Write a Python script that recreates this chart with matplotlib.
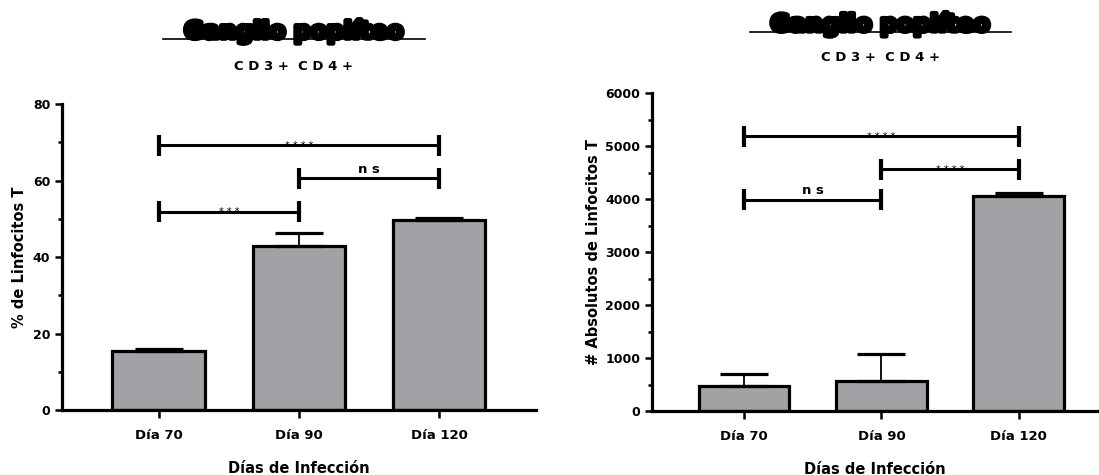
import matplotlib.pyplot as plt
import matplotlib.patheffects as pe
from matplotlib.ticker import MultipleLocator

dias = ["Día 70", "Día 90", "Día 120"]

pct_mean = [15.3, 42.8, 49.6]
pct_err = [0.6, 3.4, 0.7]
pct_brackets = [(0, 2, 69.2, "****"), (1, 2, 60.6, "ns"), (0, 1, 51.9, "***")]

abs_mean = [475, 565, 4065]
abs_err = [220, 510, 50]
abs_brackets = [(0, 2, 5180, "****"), (1, 2, 4560, "****"), (0, 1, 3990, "ns")]

gris = "#a2a1a6"

fig = plt.figure(figsize=(10.99, 4.75), dpi=100)
ax1 = fig.add_axes([0.0564, 0.1368, 0.4313, 0.6442])
ax2 = fig.add_axes([0.5933, 0.1347, 0.4049, 0.6695])


def panel(ax, means, errs, brackets, ylim, major, minor, ylabel, tick_h):
    x = range(len(dias))
    ax.bar(x, means, width=0.66, color=gris, edgecolor="black", linewidth=2.3, zorder=2)
    ax.errorbar(x, means, yerr=[[0] * len(errs), errs], fmt="none", ecolor="black",
                elinewidth=1.3, capsize=17, capthick=2.3, zorder=3)
    for i, j, y, txt in brackets:
        ax.plot([i, j], [y, y], color="black", lw=2.2, zorder=4, solid_capstyle="butt")
        for k in (i, j):
            ax.plot([k, k], [y - tick_h, y + tick_h], color="black", lw=3, zorder=4,
                    solid_capstyle="butt")
        if txt == "ns":
            ax.text((i + j) / 2, y + tick_h * 0.25, "n s", ha="center", va="bottom",
                    fontsize=9.5, fontweight="bold")
        else:
            ax.text((i + j) / 2, y - tick_h * 0.55, " ".join(txt), ha="center", va="bottom",
                    fontsize=7)
    ax.set_ylim(*ylim)
    ax.yaxis.set_major_locator(MultipleLocator(major))
    ax.yaxis.set_minor_locator(MultipleLocator(minor))
    ax.set_xticks(list(x))
    ax.set_xticklabels(dias, fontsize=9.5, fontweight="bold")
    ax.tick_params(axis="y", labelsize=9, width=1.8, length=5)
    ax.tick_params(axis="y", which="minor", width=1.8, length=3)
    ax.tick_params(axis="x", width=1.8, length=6, pad=8)
    for lab in ax.get_yticklabels():
        lab.set_fontweight("bold")
    for s in ("top", "right"):
        ax.spines[s].set_visible(False)
    for s in ("left", "bottom"):
        ax.spines[s].set_linewidth(2.3)
    ax.set_ylabel(ylabel, fontsize=10.5, fontweight="bold")
    ax.set_xlabel("Días de Infección", fontsize=10.5, fontweight="bold", labelpad=13)


panel(ax1, pct_mean, pct_err, pct_brackets, (0, 80), 20, 10, "% de Linfocitos T", 2.8)
ax1.set_xlim(-0.69, 2.69)
ax1.yaxis.labelpad = 4

panel(ax2, abs_mean, abs_err, abs_brackets, (0, 6000), 1000, 500,
      "# Absolutos de Linfocitos T", 200)
ax2.set_xlim(-0.67, 2.57)
ax2.yaxis.labelpad = 3

stroke = [pe.withStroke(linewidth=3.5, foreground="black")]
for cx, ty, uy, sy in [(0.2675, 0.935, 0.917, 0.86), (0.801, 0.95, 0.933, 0.878)]:
    fig.text(cx, ty, "Ganglio poplíteo", ha="center", va="center", fontsize=17,
             fontweight="heavy", path_effects=stroke)
    fig.add_artist(plt.Line2D([cx - 0.119, cx + 0.119], [uy, uy], color="black", lw=1.2))
    fig.text(cx, sy, "C D 3 +  C D 4 +", ha="center", va="center", fontsize=9.5,
             fontweight="bold")

fig.savefig("out.png", dpi=100)
